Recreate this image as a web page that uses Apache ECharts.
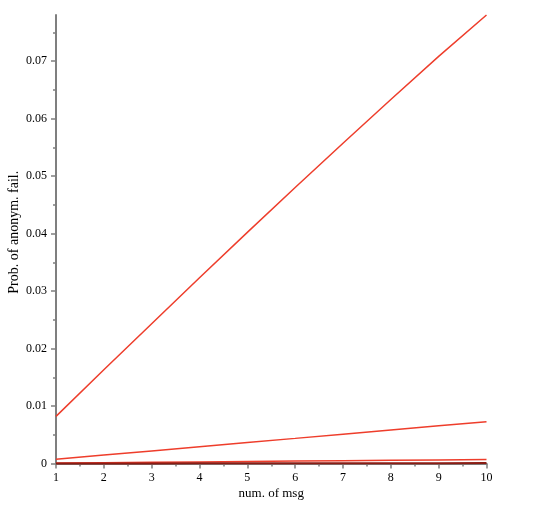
<!DOCTYPE html>
<html>
<head>
<meta charset="utf-8">
<script src="https://cdn.jsdelivr.net/npm/echarts@6/dist/echarts.min.js"></script>
<style>
html,body{margin:0;padding:0;background:#fff;}
#chart{width:536px;height:511px;}
</style>
</head>
<body>
<div id="chart"></div>
<script>
var msgCounts = [1, 2, 3, 4, 5, 6, 7, 8, 9, 10];
var probHigh = [0.0082, 0.0163, 0.0243, 0.0323, 0.0402, 0.0480, 0.0557, 0.0633, 0.0708, 0.0780];
var probMid = [0.00073, 0.00146, 0.00219, 0.00292, 0.00365, 0.00437, 0.00510, 0.00583, 0.00655, 0.00727];
var probLow = [0.00007, 0.00014, 0.00021, 0.00028, 0.00035, 0.00042, 0.00049, 0.00056, 0.00063, 0.00070];
var probTiny = [0.000007, 0.000014, 0.000021, 0.000028, 0.000035, 0.000042, 0.000049, 0.000056, 0.000063, 0.000070];
var yMajorTicks = [0, 0.01, 0.02, 0.03, 0.04, 0.05, 0.06, 0.07];
var yMinorTicks = [0.005, 0.015, 0.025, 0.035, 0.045, 0.055, 0.065, 0.075];

function pairs(vals) {
  return msgCounts.map(function (x, i) { return [x, vals[i]]; });
}

var font = '"Liberation Serif", "DejaVu Serif", serif';
var axisGray = '#7f7f7f';
var red = '#ee3d2b';

var chart = echarts.init(document.getElementById('chart'), null, {renderer: 'canvas'});
chart.setOption({
  animation: false,
  backgroundColor: '#ffffff',
  grid: {left: 56, right: 49.5, top: 15, bottom: 47.5, containLabel: false, outerBoundsMode: 'none'},
  xAxis: {
    type: 'value', min: 1, max: 10, interval: 1,
    name: 'num. of msg', nameLocation: 'middle', nameGap: 24, nameMoveOverlap: false,
    nameTextStyle: {fontFamily: font, fontSize: 13, color: '#000'},
    axisLine: {show: true, lineStyle: {color: axisGray, width: 2}},
    axisTick: {show: true, length: 5, lineStyle: {color: axisGray, width: 1.5}},
    minorTick: {show: true, splitNumber: 2, length: 3, lineStyle: {color: axisGray, width: 1.5}},
    axisLabel: {fontFamily: font, fontSize: 12, color: '#000', margin: 8},
    splitLine: {show: false}, minorSplitLine: {show: false}
  },
  yAxis: [{
    type: 'value', min: 0, max: 0.078,
    name: 'Prob. of anonym. fail.', nameLocation: 'middle', nameGap: 35, nameRotate: 90, nameMoveOverlap: false,
    nameTextStyle: {fontFamily: font, fontSize: 14, color: '#000', padding: [0, 0, 0, 14]},
    axisLine: {show: true, lineStyle: {color: axisGray, width: 2}},
    axisTick: {show: true, length: 5, customValues: yMajorTicks, lineStyle: {color: axisGray, width: 1.5}},
    axisLabel: {fontFamily: font, fontSize: 12, color: '#000', margin: 9, customValues: yMajorTicks,
      formatter: function (v) { return String(+(+v).toFixed(3)); }},
    splitLine: {show: false}
  }, {
    type: 'value', min: 0, max: 0.078, position: 'left', offset: 0,
    axisLine: {show: false},
    axisTick: {show: true, length: 3, customValues: yMinorTicks, lineStyle: {color: axisGray, width: 1.5}},
    axisLabel: {show: false},
    splitLine: {show: false}
  }],
  series: [
    {type: 'line', data: pairs(probHigh), showSymbol: false, clip: false, lineStyle: {color: red, width: 1.5}, z: 3},
    {type: 'line', data: pairs(probMid), showSymbol: false, clip: false, lineStyle: {color: red, width: 1.5}, z: 3},
    {type: 'line', data: pairs(probLow), showSymbol: false, clip: false, lineStyle: {color: red, width: 1.5}, z: 3},
    {type: 'line', data: pairs(probTiny), showSymbol: false, clip: false, lineStyle: {color: '#8a1c14', width: 2}, z: 4}
  ]
});
</script>
</body>
</html>
